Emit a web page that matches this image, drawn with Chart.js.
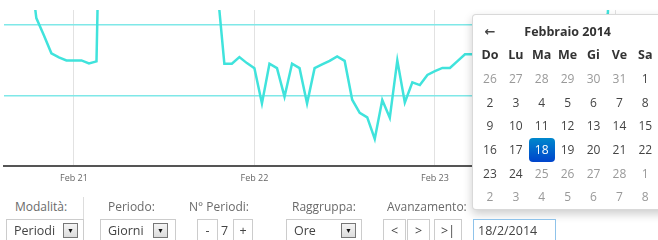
<!DOCTYPE html>
<html>
<head>
<meta charset="utf-8">
<script src="https://cdn.jsdelivr.net/npm/chart.js@4.4.1/dist/chart.umd.min.js"></script>
<style>
  body { margin: 0; width: 658px; height: 240px; overflow: hidden; background: #fff; font-family: "Open Sans", sans-serif; position: relative; }
  #chartBox { position: absolute; left: 0; top: 0; width: 658px; height: 198px; }
  .lbl { position: absolute; top: 198px; font-size: 12px; color: #6a6a6a; line-height: 18px; }
  .sep { position: absolute; left: 83px; top: 197px; width: 1px; height: 43px; background: #ddd; }
  .ctl { position: absolute; top: 219px; height: 24px; box-sizing: border-box; border: 1px solid #ccc; background: #fff; font-size: 12.5px; color: #444; line-height: 22px; }
  .sel span { position: absolute; left: 7px; }
  .drop { position: absolute; top: 3px; width: 15px; height: 15px; box-sizing: border-box; border: 1px solid #777; background: linear-gradient(#f4f4f4, #dcdcdc); font-size: 7px; line-height: 13px; text-align: center; color: #111; }
  .btn { text-align: center; }
  .picker { position: absolute; left: 472px; top: 14px; width: 200px; height: 196px; box-sizing: border-box; background: #fff; border: 1px solid rgba(0,0,0,0.15); border-radius: 4px; box-shadow: 0 4px 10px rgba(0,0,0,0.2); }
  .grid { position: absolute; left: 4px; top: 4.5px; display: grid; grid-template-columns: repeat(7, 25.9px); grid-auto-rows: 23.7px; font-size: 12px; line-height: 23.7px; text-align: center; color: #444; }
  .grid .h { font-weight: bold; font-size: 12.5px; color: #333; }
  .grid .o { color: #999; }
  .grid .sel18 { color: #fff; background: linear-gradient(#0088cc, #0044cc); border-radius: 4px; }
  .grid .title { grid-column: 2 / span 5; font-weight: bold; font-size: 12.5px; color: #333; }
  .grid .arrow { font-weight: bold; font-family: "DejaVu Sans", sans-serif; font-size: 13px; }
</style>
</head>
<body>
<div id="chartBox"><canvas id="chart" width="658" height="198"></canvas></div>

<div class="picker"><div class="grid" id="cal"></div></div>

<div class="lbl" style="left:15px">Modalità:</div>
<div class="sep"></div>
<div class="lbl" style="left:108px">Periodo:</div>
<div class="lbl" style="left:189px">N° Periodi:</div>
<div class="lbl" style="left:292px">Raggruppa:</div>
<div class="lbl" style="left:387px">Avanzamento:</div>

<div class="ctl sel" style="left:6px;width:78px"><span>Periodi</span><div class="drop" style="left:56px">&#9660;</div></div>
<div class="ctl sel" style="left:100px;width:76px"><span>Giorni</span><div class="drop" style="left:52px">&#9660;</div></div>
<div class="ctl btn" style="left:197px;width:21px">-</div>
<div style="position:absolute;left:221px;top:220px;font-size:12.5px;color:#444;line-height:22px">7</div>
<div class="ctl btn" style="left:233px;width:20px">+</div>
<div class="ctl sel" style="left:286px;width:76px"><span>Ore</span><div class="drop" style="left:54px">&#9660;</div></div>
<div class="ctl btn" style="left:383px;width:23px">&lt;</div>
<div class="ctl btn" style="left:407px;width:23px">&gt;</div>
<div class="ctl btn" style="left:434px;width:28px">&gt;|</div>
<div class="ctl" style="left:473px;width:83px;border-color:#8fc3ea;padding-left:4px">18/2/2014</div>

<script>
// hourly readings, first one at Feb 20 14:00 (hour -10 from Feb 21 00:00)
const startHour = -10;
const levels = [
  30, 32, 30, 26, 20.7, 14.7, 13.0, 11.2, 10.8, 10.5,
  10.5, 10.5, 10.2, 10.4, 48, 52, 55, 54, 50, 47,
  45, 44, 46, 43, 40, 36, 32, 27, 22, 18.2,
  10.17, 10.17, 10.83, 10.23, 9.73, 6.23, 10.17, 9.73, 6.9, 10.17,
  9.73, 6.23, 9.73, 10.1, 10.45, 10.9, 10.45, 6.6, 5.3, 4.85,
  2.7, 6.57, 4.8, 10.5, 6.33, 8.33, 8.05, 9.05, 9.43, 9.75,
  9.75, 10.43, 11.1, 11.1, 11.4, 11.0, 10.6, 9.8, 9.5, 10.2,
  10.8, 11.3, 11.0, 10.4, 10.1, 10.6, 11.2, 11.6, 12.0, 12.3,
  12.6, 15.2, 34, 40, 44, 46, 45, 43
];
const thresholds = [7, 14];
const dayTicks = [0, 24, 48, 72];
const dayLabels = ['Feb 21', 'Feb 22', 'Feb 23', 'Feb 24'];

// calendar
const monthTitle = 'Febbraio 2014';
const weekDays = ['Do', 'Lu', 'Ma', 'Me', 'Gi', 'Ve', 'Sa'];
const calDays = [26,27,28,29,30,31,1, 2,3,4,5,6,7,8, 9,10,11,12,13,14,15, 16,17,18,19,20,21,22, 23,24,25,26,27,28,1, 2,3,4,5,6,7,8];
const selectedDay = 18;
const lastEnabled = 24;

const cal = document.getElementById('cal');
cal.innerHTML = '<div class="arrow">&#8592;</div><div class="title">' + monthTitle + '</div><div></div>' +
  weekDays.map(d => '<div class="h">' + d + '</div>').join('') +
  calDays.map((d, i) => {
    const inMonth = !((i < 7 && d > 7) || (i >= 28 && d < 20));
    let cls = (!inMonth || d > lastEnabled) ? 'o' : '';
    if (inMonth && d === selectedDay) cls = 'sel18';
    return '<div class="' + cls + '">' + d + '</div>';
  }).join('');

const ctx = document.getElementById('chart').getContext('2d');
new Chart(ctx, {
  type: 'line',
  data: {
    datasets: [{
      data: levels.map((v, i) => ({ x: startHour + i, y: v })),
      borderColor: '#40e3dc',
      borderWidth: 2.5,
      pointRadius: 0,
      tension: 0,
      fill: false
    }]
  },
  options: {
    responsive: false,
    animation: false,
    layout: { padding: { top: 10, left: 4, right: 5, bottom: 7 } },
    plugins: { legend: { display: false }, tooltip: { enabled: false } },
    scales: {
      x: {
        type: 'linear',
        min: -9.3,
        max: 77,
        afterBuildTicks: s => { s.ticks = dayTicks.map(v => ({ value: v })); },
        ticks: {
          callback: (v, i) => dayLabels[i],
          font: { family: 'Open Sans', size: 9 },
          color: '#666',
          padding: 7,
          maxRotation: 0,
          autoSkip: false
        },
        grid: { color: '#e2e2e2', drawTicks: false },
        border: { color: '#555', width: 2 }
      },
      y: {
        min: 0,
        max: 15.5,
        afterBuildTicks: s => { s.ticks = thresholds.map(v => ({ value: v })); },
        ticks: { display: false },
        grid: { color: '#7fe8e8', lineWidth: 1.5, drawTicks: false },
        border: { display: false }
      }
    }
  }
});
</script>
</body>
</html>
